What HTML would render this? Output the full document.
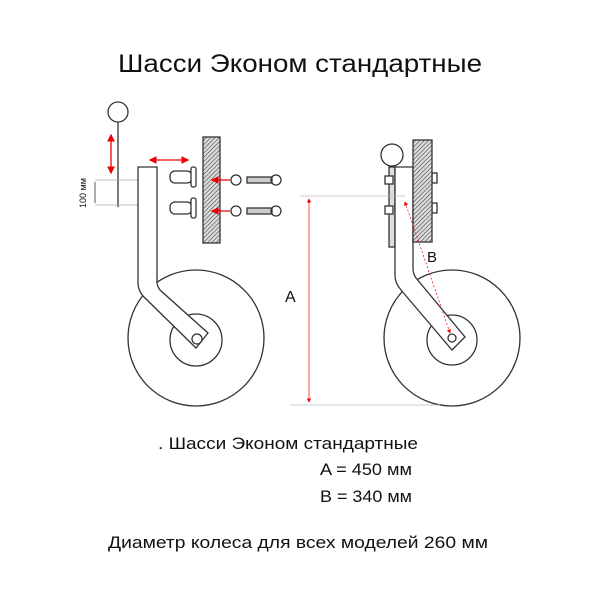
<!DOCTYPE html><html><head><style>body{margin:0;background:#fff}svg{display:block}text{font-family:"Liberation Sans",sans-serif;fill:#111}</style></head><body>
<svg width="600" height="600" viewBox="0 0 600 600" xmlns="http://www.w3.org/2000/svg">
<defs><pattern id="h" width="3" height="3" patternUnits="userSpaceOnUse" patternTransform="rotate(45)"><rect width="3" height="3" fill="#ddd"/><line x1="0" y1="0" x2="0" y2="3" stroke="#444" stroke-width="1.2"/></pattern>
<marker id="a" markerWidth="6" markerHeight="6" refX="5" refY="3" orient="auto-start-reverse"><path d="M0,0L6,3L0,6z" fill="#e00"/></marker></defs>
<text x="118" y="72" font-size="25" textLength="364" lengthAdjust="spacingAndGlyphs">Шасси Эконом стандартные</text>
<g fill="none" stroke="#333" stroke-width="1.3">
<!-- left -->
<circle cx="118" cy="112" r="10"/><line x1="118" y1="122" x2="118" y2="207"/>
<line x1="95" y1="180" x2="140" y2="180" stroke="#aaa" stroke-width="0.7"/><line x1="95" y1="205" x2="140" y2="205" stroke="#aaa" stroke-width="0.7"/>
<circle cx="196" cy="338" r="68"/><circle cx="196" cy="340" r="26"/>
<path d="M138,167H157V282Q157,286 160,290L208,333L196,348L143,296Q138,290 138,283Z" fill="#fff"/>
<circle cx="197" cy="339" r="5"/>
<rect x="203" y="137" width="17" height="106" fill="url(#h)"/>
<rect x="170" y="171" width="22" height="12" rx="5" fill="#fff"/><rect x="191" y="167" width="5" height="20" rx="2" fill="#fff"/>
<rect x="170" y="202" width="22" height="12" rx="5" fill="#fff"/><rect x="191" y="198" width="5" height="20" rx="2" fill="#fff"/>
<circle cx="236" cy="180" r="5"/><circle cx="236" cy="211" r="5"/>
<rect x="247" y="177" width="25" height="6" fill="#ccc"/><circle cx="276" cy="180" r="5"/>
<rect x="247" y="208" width="25" height="6" fill="#ccc"/><circle cx="276" cy="211" r="5"/>
<!-- right -->
<circle cx="392" cy="155" r="11"/>
<rect x="389" y="167" width="6" height="80" fill="#ddd"/>
<rect x="385" y="176" width="8" height="8" fill="#fff"/><rect x="385" y="206" width="8" height="8" fill="#fff"/>
<rect x="432" y="173" width="5" height="10" fill="#fff"/><rect x="432" y="203" width="5" height="10" fill="#fff"/>
<circle cx="452" cy="338" r="68"/><circle cx="452" cy="340" r="25"/>
<path d="M395,167H413V268Q413,274 416,278L465,337L452,350L401,290Q395,283 395,276Z" fill="#fff"/>
<circle cx="452" cy="338" r="4"/>
<rect x="413" y="140" width="19" height="102" fill="url(#h)"/>
</g>
<g stroke="#e00" stroke-width="1.3" fill="none">
<line x1="111" y1="135" x2="111" y2="173" marker-start="url(#a)" marker-end="url(#a)"/>
<line x1="150" y1="160" x2="188" y2="160" marker-start="url(#a)" marker-end="url(#a)"/>
<line x1="230" y1="180" x2="212" y2="180" marker-end="url(#a)"/><line x1="230" y1="211" x2="212" y2="211" marker-end="url(#a)"/>
<line x1="309" y1="199" x2="309" y2="402" stroke-width="0.7" marker-start="url(#a)" marker-end="url(#a)"/>
<line x1="405" y1="202" x2="450" y2="333" stroke-width="0.7" stroke-dasharray="2,2" marker-start="url(#a)" marker-end="url(#a)"/>
</g>
<line x1="95" y1="182" x2="95" y2="203" stroke="#333" stroke-width="0.8"/>
<line x1="300" y1="196" x2="405" y2="196" stroke="#bbb" stroke-width="0.7"/>
<line x1="290" y1="405" x2="440" y2="405" stroke="#bbb" stroke-width="0.7"/>
<text x="0" y="0" font-size="9" transform="translate(86,208) rotate(-90)">100 мм</text>
<text x="285" y="302" font-size="16">A</text>
<text x="427" y="262" font-size="15">B</text>
<text x="158" y="449" font-size="17" textLength="260" lengthAdjust="spacingAndGlyphs">. Шасси Эконом стандартные</text>
<text x="320" y="475" font-size="17" textLength="92" lengthAdjust="spacingAndGlyphs">A = 450 мм</text>
<text x="320" y="502" font-size="17" textLength="92" lengthAdjust="spacingAndGlyphs">B = 340 мм</text>
<text x="108" y="548" font-size="17" textLength="380" lengthAdjust="spacingAndGlyphs">Диаметр колеса для всех моделей  260 мм</text>
</svg></body></html>
